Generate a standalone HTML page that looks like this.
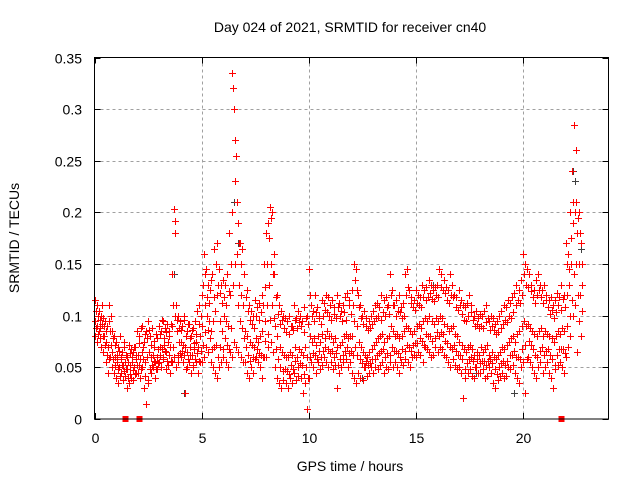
<!DOCTYPE html>
<html><head><meta charset="utf-8"><style>
body{margin:0;background:#fff}
svg{display:block;font-family:"Liberation Sans",sans-serif}
</style></head><body>
<svg id="chart" width="640" height="480" viewBox="0 0 640 480">
<rect width="640" height="480" fill="#fff"/>
<text x="350" y="32" font-size="14" text-anchor="middle">Day 024 of 2021, SRMTID for receiver cn40</text>
<g id="grid"></g>
<g id="ticks"></g>
<g id="marks" shape-rendering="crispEdges"></g>
<rect x="94.5" y="57.5" width="514" height="361.5" fill="none" stroke="#000" stroke-width="1"/>
<text x="350" y="471" font-size="14" text-anchor="middle">GPS time / hours</text>
<text x="19" y="238" font-size="14" text-anchor="middle" transform="rotate(-90 19 238)">SRMTID / TECUs</text>
</svg>
<script>
const xTicks=[0,5,10,15,20];
const yTicks=[0,0.05,0.1,0.15,0.2,0.25,0.3,0.35];
const yTickLabels=["0","0.05","0.1","0.15","0.2","0.25","0.3","0.35"];
const step=0.1;
const seriesUpper=[115,110,105,100,98,95,90,110,85,80,75,70,80,65,70,60,72,68,65,70,85,80,90,75,85,95,80,88,70,78,90,85,95,88,92,85,140,203,110,100,95,90,100,85,92,80,88,95,105,110,120,160,145,130,125,140,165,170,145,130,135,130,140,180,335,300,255,190,170,165,140,125,110,105,100,115,108,112,120,150,180,190,205,200,140,120,110,105,100,98,95,100,90,110,98,105,100,95,108,100,145,110,105,120,108,100,115,112,120,118,110,115,108,120,112,105,110,118,122,115,125,150,145,120,110,100,105,98,95,100,105,110,112,108,120,115,118,110,140,125,110,115,120,108,112,140,145,125,118,115,125,120,118,130,125,128,135,130,125,128,130,145,140,135,128,125,140,130,120,118,125,115,110,108,112,120,110,100,105,98,102,100,105,110,95,100,98,92,95,100,105,110,108,115,112,118,122,130,125,135,160,150,145,140,130,125,135,140,130,125,130,120,115,118,110,115,122,118,130,120,170,160,200,240,285,210,200,170];
const seriesLower=[80,75,85,70,65,55,45,60,50,45,40,35,45,38,42,30,35,40,38,45,45,40,50,30,15,35,45,50,40,48,55,50,60,48,52,45,55,60,50,55,60,55,25,50,55,45,50,55,45,55,55,60,70,65,55,50,45,40,50,55,60,55,50,65,60,75,70,65,60,55,55,45,40,50,45,60,55,50,40,60,60,70,75,65,50,40,35,30,38,35,30,40,35,45,38,42,40,25,35,10,40,55,50,45,55,48,52,60,55,50,55,48,52,30,45,50,55,58,50,55,45,40,35,45,40,38,50,42,45,50,45,50,48,52,55,45,50,48,55,50,55,50,45,55,52,58,55,50,60,62,60,65,62,55,70,68,65,60,62,70,65,70,68,62,60,55,50,58,52,48,50,45,20,40,45,48,42,40,50,45,45,48,40,42,50,45,35,30,38,42,45,40,42,50,48,52,45,40,35,50,55,25,60,55,50,45,40,50,55,45,50,55,45,40,30,48,52,55,50,45,60,70,80,100,110,65,95,80];
const seriesMid=[95,90,88,92,80,75,70,85,65,60,55,50,60,52,55,48,52,55,50,58,62,58,65,55,60,65,60,62,55,60,70,68,72,65,75,70,90,180,85,75,75,72,70,65,70,62,68,75,70,80,90,110,100,95,85,95,105,120,95,85,100,95,90,120,200,230,160,130,120,110,85,80,75,72,70,78,75,80,85,95,110,130,150,140,90,80,70,65,62,60,60,65,62,70,60,68,65,62,70,60,80,75,78,72,80,75,82,78,85,80,80,75,78,70,72,75,80,82,78,80,80,95,90,75,70,65,62,60,65,68,72,75,78,80,82,75,78,80,90,85,80,82,78,80,85,90,88,85,82,85,90,92,88,95,98,95,100,95,92,98,95,100,98,92,90,85,88,90,82,80,75,72,68,65,70,72,68,62,65,62,70,65,68,72,62,65,60,58,62,65,70,68,72,75,78,80,75,82,85,90,95,90,92,88,85,82,80,85,88,80,85,82,80,78,75,80,85,82,88,85,120,130,150,190,200,180,150,130];
const seriesExtraHigh=[105,100,96,110,90,85,95,100,78,72,62,66,58,75,62,55,64,60,70,62,74,88,70,82,78,86,72,76,82,68,82,96,78,84,80,92,110,192,96,88,86,96,80,92,78,86,74,82,92,100,130,140,118,112,135,118,150,130,122,112,118,110,124,150,320,270,210,170,150,140,118,105,96,92,88,100,96,104,110,128,150,175,195,160,118,102,92,96,88,84,82,90,86,96,88,94,90,84,98,92,120,100,95,104,98,92,100,106,104,100,96,102,98,108,100,95,104,96,110,102,110,135,125,108,98,92,90,86,88,92,95,98,100,96,104,100,108,102,120,110,100,105,104,98,100,120,128,112,108,106,112,110,108,118,115,118,122,116,114,120,118,128,125,122,115,112,120,118,108,106,110,102,96,95,100,104,96,90,92,88,90,88,94,98,86,90,86,82,84,88,92,96,94,100,98,104,110,115,112,120,140,130,128,124,118,112,120,125,118,112,115,108,102,106,98,104,110,106,116,108,150,145,175,210,260,195,180,150];
const seriesExtraLow=[88,82,78,80,72,62,58,72,58,52,48,42,52,46,48,40,44,47,44,52,52,48,58,42,38,48,52,56,48,54,62,58,66,56,62,56,70,100,62,64,66,62,48,58,62,52,58,64,56,66,72,84,86,78,68,70,72,60,70,68,78,72,68,88,130,150,110,95,88,78,70,62,56,60,58,68,64,62,60,76,82,96,110,98,68,58,50,46,48,46,44,52,48,56,50,54,52,44,50,40,60,64,62,58,66,60,66,70,68,64,66,60,64,52,58,62,66,70,64,66,62,70,62,58,54,50,56,52,54,58,58,62,64,66,68,60,64,62,70,66,66,64,60,68,66,72,70,66,72,74,74,78,76,72,82,80,80,76,78,84,80,84,82,76,74,70,68,72,66,62,62,58,48,54,58,60,56,50,58,54,56,56,52,56,58,54,48,44,50,54,56,52,56,62,62,66,60,60,58,68,72,58,76,72,68,62,60,66,70,62,66,68,62,58,52,62,68,68,68,64,90,100,115,140,150,120,120,105];
const grayTimes=[0.2,3.7,4.2,6.5,6.7,12.5,15.8,17.8,19.6,22.35,22.45,22.7];
const grayValues=[0.105,0.14,0.025,0.21,0.17,0.04,0.13,0.045,0.025,0.24,0.23,0.165];
const zeroTimes=[1.45,2.1,21.8];

const NS="http://www.w3.org/2000/svg";
const X0=94.5,X1=608.5,Y0=419,Y1=57.5;
function sx(t){return X0+(t/24)*(X1-X0);}
function sy(v){return Y0-(v/0.35)*(Y0-Y1);}
const grid=document.getElementById('grid'),ticks=document.getElementById('ticks'),marks=document.getElementById('marks');
function mk(tag,attrs,parent){const e=document.createElementNS(NS,tag);for(const k in attrs)e.setAttribute(k,attrs[k]);parent.appendChild(e);return e;}
xTicks.forEach((t,i)=>{
  const x=Math.round(sx(t))+0.5;
  if(t>0){const g=mk('line',{x1:x,x2:x,y1:Y1,y2:Y0,stroke:'#a0a0a0','stroke-dasharray':'3,3'},grid);
  
  }
  mk('line',{x1:x,x2:x,y1:Y0,y2:Y0-6,stroke:'#000'},ticks);
  mk('line',{x1:x,x2:x,y1:Y1,y2:Y1+6,stroke:'#000'},ticks);
  const l=mk('text',{x:x,y:443,'font-size':14,'text-anchor':'middle'},ticks);l.textContent=t;
  
  
});
yTicks.forEach((v,i)=>{
  const y=Math.round(sy(v))+0.5;
  if(v>0&&v<0.35){const g=mk('line',{x1:X0,x2:X1,y1:y,y2:y,stroke:'#a0a0a0','stroke-dasharray':'3,3'},grid);
  
  }
  mk('line',{x1:X0,x2:X0+6,y1:y,y2:y,stroke:'#000'},ticks);
  mk('line',{x1:X1,x2:X1-6,y1:y,y2:y,stroke:'#000'},ticks);
  const l=mk('text',{x:82,y:y+5,'font-size':14,'text-anchor':'end'},ticks);l.textContent=yTickLabels[i];
  
  
});
function plus(t,v,color){
  const x=Math.round(sx(t)),y=Math.round(sy(v));
  const p=mk('path',{d:`M${x-3} ${y+0.5}h7M${x+0.5} ${y-3}v7`,stroke:color,'stroke-width':1,fill:'none'},marks);
  
  
}
grayTimes.forEach((t,i)=>plus(t,grayValues[i],'#404040'));
[[seriesUpper,0],[seriesLower,0.02],[seriesMid,0.04],[seriesExtraHigh,0.06],[seriesExtraLow,0.08]].forEach(([arr,off])=>{
  arr.forEach((v,i)=>plus(i*step+off,v/1000,'#ff0000'));
});
zeroTimes.forEach(t=>{
  const r=mk('rect',{x:sx(t)-3,y:Y0-3,width:6,height:6,fill:'#ff0000'},marks);
  
  
});
</script>
</body></html>
